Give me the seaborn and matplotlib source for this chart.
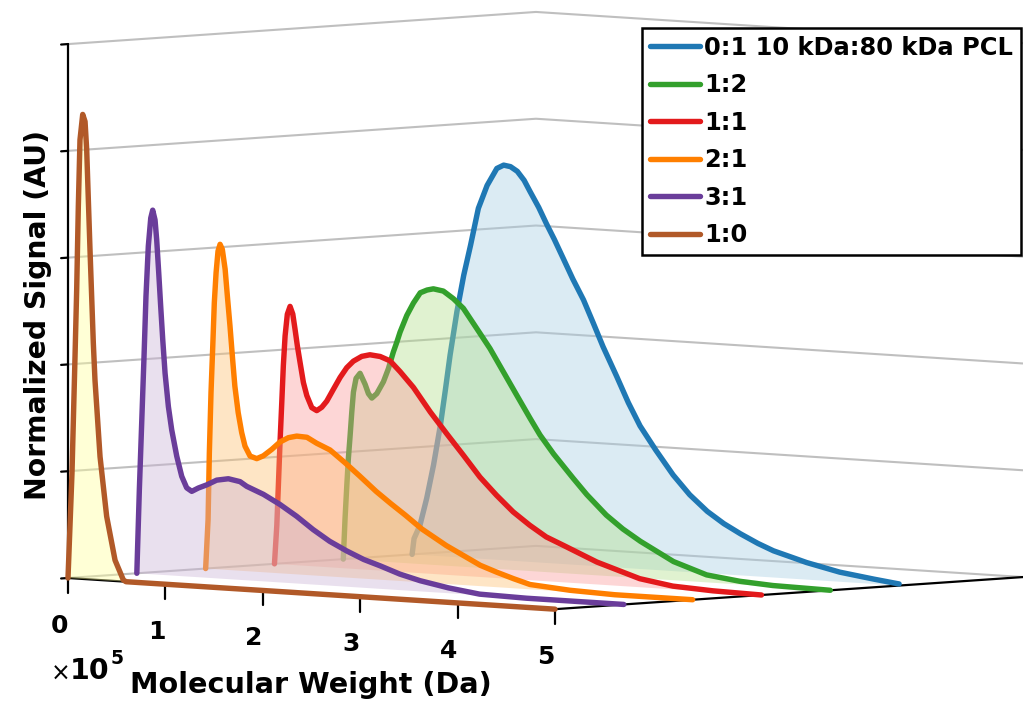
import numpy as np
import matplotlib
matplotlib.use("Agg")
import matplotlib.pyplot as plt
import seaborn as sns
from matplotlib.colors import to_rgba
from mpl_toolkits.mplot3d import proj3d
from mpl_toolkits.mplot3d.art3d import Poly3DCollection

sns.set_theme(style="ticks")
plt.rcParams["font.family"] = ["DejaVu Sans"]
plt.rcParams["font.weight"] = "bold"
plt.rcParams["text.color"] = "black"

# ---- data: molecular weight (x 1e5 Da) and normalized GPC signal per blend ----
labels = ["0:1 10 kDa:80 kDa PCL", "1:2", "1:1", "2:1", "3:1", "1:0"]

mw_0_1 = [0.00, 0.02, 0.08, 0.15, 0.22, 0.29, 0.34, 0.39, 0.46, 0.53, 0.60, 0.68, 0.77, 0.87, 0.94,
          1.01, 1.08, 1.15, 1.21, 1.30, 1.38, 1.46, 1.55, 1.65, 1.76, 1.86, 1.96, 2.10, 2.22, 2.34,
          2.50, 2.68, 2.85, 3.03, 3.20, 3.37, 3.55, 3.71, 3.90, 4.05, 4.39, 4.74, 5.00]
sig_0_1 = [0.00, 0.030, 0.055, 0.107, 0.170, 0.245, 0.310, 0.378, 0.460, 0.529, 0.586, 0.656, 0.700, 0.733, 0.740,
           0.738, 0.730, 0.714, 0.694, 0.665, 0.635, 0.607, 0.573, 0.535, 0.497, 0.455, 0.412, 0.358, 0.310, 0.268,
           0.225, 0.180, 0.145, 0.116, 0.095, 0.078, 0.062, 0.050, 0.040, 0.032, 0.018, 0.009, 0.003]

mw_1_2 = [0.00, 0.018, 0.036, 0.052, 0.07, 0.087, 0.104, 0.131, 0.172, 0.224, 0.258, 0.293, 0.344, 0.412,
          0.463, 0.514, 0.55, 0.583, 0.652, 0.72, 0.79, 0.86, 0.925, 1.027, 1.13, 1.233, 1.37, 1.506,
          1.643, 1.78, 1.918, 2.02, 2.16, 2.36, 2.50, 2.70, 2.87, 3.05, 3.39, 3.73, 4.07, 4.41, 5.00]
sig_1_2 = [0.00, 0.076, 0.138, 0.189, 0.232, 0.276, 0.314, 0.340, 0.350, 0.330, 0.313, 0.305, 0.314, 0.337,
           0.362, 0.394, 0.413, 0.432, 0.464, 0.488, 0.508, 0.514, 0.517, 0.514, 0.501, 0.484, 0.448, 0.412,
           0.370, 0.328, 0.286, 0.256, 0.222, 0.179, 0.150, 0.114, 0.090, 0.069, 0.035, 0.014, 0.006, 0.002, 0.00]

mw_1_1 = [0.00, 0.024, 0.04, 0.057, 0.075, 0.091, 0.109, 0.132, 0.16, 0.188, 0.211, 0.235, 0.263, 0.297,
          0.332, 0.383, 0.434, 0.486, 0.537, 0.605, 0.674, 0.742, 0.81, 0.896, 0.98, 1.085, 1.187, 1.29,
          1.427, 1.60, 1.77, 1.94, 2.11, 2.28, 2.45, 2.62, 2.79, 2.97, 3.31, 3.75, 4.09, 4.50, 5.00]
sig_1_1 = [0.00, 0.072, 0.147, 0.228, 0.303, 0.372, 0.428, 0.469, 0.484, 0.470, 0.442, 0.411, 0.380, 0.343,
           0.319, 0.297, 0.292, 0.299, 0.311, 0.334, 0.357, 0.376, 0.389, 0.399, 0.403, 0.401, 0.394, 0.375,
           0.347, 0.303, 0.264, 0.226, 0.187, 0.155, 0.126, 0.103, 0.083, 0.069, 0.042, 0.016, 0.006, 0.002, 0.00]

mw_2_1 = [0.00, 0.025, 0.038, 0.055, 0.073, 0.089, 0.107, 0.127, 0.148, 0.171, 0.20, 0.223, 0.25, 0.277,
          0.30, 0.334, 0.37, 0.404, 0.456, 0.525, 0.592, 0.678, 0.764, 0.849, 0.935, 1.04, 1.14, 1.277,
          1.43, 1.58, 1.75, 1.90, 2.05, 2.22, 2.47, 2.65, 2.82, 2.99, 3.16, 3.33, 3.74, 4.20, 5.00]
sig_2_1 = [0.00, 0.092, 0.217, 0.330, 0.417, 0.499, 0.555, 0.596, 0.609, 0.600, 0.563, 0.513, 0.457, 0.395,
           0.345, 0.296, 0.259, 0.234, 0.216, 0.212, 0.218, 0.231, 0.246, 0.255, 0.259, 0.258, 0.248, 0.237,
           0.215, 0.192, 0.165, 0.144, 0.124, 0.100, 0.072, 0.055, 0.039, 0.028, 0.018, 0.009, 0.003, 0.00, 0.00]

mw_3_1 = [0.00, 0.026, 0.05, 0.074, 0.094, 0.118, 0.143, 0.163, 0.187, 0.204, 0.225, 0.245, 0.266, 0.29,
          0.324, 0.358, 0.41, 0.461, 0.512, 0.564, 0.631, 0.718, 0.82, 0.94, 1.06, 1.128, 1.30, 1.47,
          1.64, 1.81, 1.98, 2.155, 2.33, 2.50, 2.70, 2.91, 3.20, 3.52, 4.00, 5.00]
sig_3_1 = [0.00, 0.157, 0.282, 0.407, 0.520, 0.614, 0.667, 0.682, 0.664, 0.627, 0.565, 0.503, 0.441, 0.378,
           0.316, 0.273, 0.224, 0.187, 0.166, 0.160, 0.167, 0.174, 0.184, 0.188, 0.184, 0.176, 0.163, 0.146,
           0.126, 0.103, 0.083, 0.067, 0.053, 0.043, 0.030, 0.020, 0.010, 0.002, 0.00, 0.00]

mw_1_0 = [0.00, 0.041, 0.072, 0.089, 0.106, 0.123, 0.151, 0.175, 0.192, 0.209, 0.226, 0.243, 0.26,
          0.277, 0.329, 0.397, 0.483, 0.568, 0.595, 5.00]
sig_1_0 = [0.00, 0.197, 0.415, 0.540, 0.697, 0.822, 0.870, 0.857, 0.804, 0.710, 0.617, 0.530, 0.443,
           0.374, 0.231, 0.120, 0.039, 0.003, 0.00, 0.00]

mw_series = [mw_0_1, mw_1_2, mw_1_1, mw_2_1, mw_3_1, mw_1_0]
sig_series = [sig_0_1, sig_1_2, sig_1_1, sig_2_1, sig_3_1, sig_1_0]

x_ticks = [0, 1, 2, 3, 4, 5]
z_ticks = [0.0, 0.2, 0.4, 0.6, 0.8, 1.0]

# Paired palette: dark shade for the trace, light shade for the area under it
paired = sns.color_palette("Paired", 12)
line_colors = [paired[1], paired[3], paired[5], paired[7], paired[9], paired[11]]
fill_colors = [paired[0], paired[2], paired[4], paired[6], paired[8], paired[10]]

W, H = 1023, 702
fig = plt.figure(figsize=(W / 100, H / 100), dpi=100)
fig.patch.set_facecolor("white")
ax = fig.add_axes([0, 0, 1, 1], projection="3d")
ax.set_proj_type("ortho")
ax.view_init(elev=3.8, azim=-46)
ax.set_box_aspect((677.0, 673.7, 535.1))
ax.computed_zorder = False
ax.set_facecolor((1, 1, 1, 0))
for t in (ax.title, ax._left_title, ax._right_title):
    t.set_visible(False)

n = len(labels)
y_max = 6.8
ax.set_xlim(0, 5)
ax.set_ylim(0, y_max)
ax.set_zlim(0, 1)
ax.set_xticks([])
ax.set_yticks([])
ax.set_zticks(z_ticks)
ax.zaxis.set_tick_params(label1On=False, label2On=False)

for axis in (ax.xaxis, ax.yaxis, ax.zaxis):
    axis.set_pane_color((1, 1, 1, 0))
    axis.pane.set_edgecolor((1, 1, 1, 0))
    axis.line.set_color("black")
    axis.line.set_linewidth(1.6)
    axis.label.set_visible(False)
    axis.offsetText.set_visible(False)

# z gridlines on the back walls; the vertical axis itself is drawn on the left edge below
ax.zaxis._axinfo["grid"].update(color="#bfbfbf", linewidth=1.5, linestyle="-")
ax.zaxis._axinfo["tick"]["inward_factor"] = 0.0
ax.zaxis._axinfo["tick"]["outward_factor"] = 0.0
ax.zaxis._axinfo["tick"]["linewidth"] = {True: 0.0, False: 0.0}
ax.zaxis.line.set_color((0, 0, 0, 0))

ax.plot([0, 0], [0, 0], [z_ticks[0], z_ticks[-1]], color="black", lw=1.6, zorder=1)
for zt in z_ticks:
    ax.plot([0, 0], [0, -0.1], [zt, zt], color="black", lw=1.6, zorder=1)

# x tick marks along the front floor edge
for k in x_ticks:
    ax.plot([k, k], [0, 0], [0, -0.028], color="black", lw=1.6, zorder=1)

# traces: back (0:1) to front (1:0)
handles = []
for i in range(n):
    depth = n - 1 - i
    xs = np.asarray(mw_series[i], dtype=float)
    zs = np.asarray(sig_series[i], dtype=float)
    ys = np.full_like(xs, depth)
    verts = list(zip(xs, ys, zs)) + [(xs[-1], depth, 0.0), (xs[0], depth, 0.0)]
    poly = Poly3DCollection([verts], facecolors=[to_rgba(fill_colors[i], 0.4)],
                            edgecolors="none", zorder=2 + 2 * i)
    ax.add_collection3d(poly)
    line, = ax.plot(xs, ys, zs, color=line_colors[i], lw=3.9,
                    solid_capstyle="round", solid_joinstyle="round",
                    zorder=3 + 2 * i, label=labels[i])
    handles.append(line)

# place the box: floor corners (0,0,0) and (5,0,0) at fixed pixel positions
fig.canvas.draw()


def to_px(x, y, z):
    px, py, _ = proj3d.proj_transform(np.atleast_1d(x), np.atleast_1d(y),
                                      np.atleast_1d(z), ax.M)
    return ax.transData.transform(np.column_stack([px, py]))


pts = to_px([0, 5], [0, 0], [0, 0])
target = np.array([[68.0, H - 578.0], [555.0, H - 610.0]])
s = (target[1, 0] - target[0, 0]) / (pts[1, 0] - pts[0, 0])
bb = ax.get_position().transformed(fig.transFigure)
cx, cy = (bb.x0 + bb.x1) / 2, (bb.y0 + bb.y1) / 2
side = bb.width * s
ncx = target[0, 0] - s * (pts[0, 0] - cx)
ncy = target[0, 1] - s * (pts[0, 1] - cy)
ax.set_position([(ncx - side / 2) / W, (ncy - side / 2) / H, side / W, side / H])

# x tick labels, placed at the projected position just below each tick
tick_px = to_px(np.asarray(x_ticks, dtype=float), np.full(len(x_ticks), -0.13),
                np.full(len(x_ticks), -0.088))
for k, (px, py) in zip(x_ticks, tick_px):
    fig.text(px / W, py / H, f"{k}", ha="center", va="center",
             fontsize=18, fontweight="bold", color="black")

# axis titles
fig.text(38 / W, 1 - 315 / H, "Normalized Signal (AU)", rotation=90,
         ha="center", va="center", fontsize=20.3, fontweight="bold")
fig.text(311 / W, 1 - 685 / H, "Molecular Weight (Da)",
         ha="center", va="center", fontsize=20.6, fontweight="bold")
fig.text(61 / W, 1 - 674 / H, "\u00d7", ha="center", va="center",
         fontsize=17, fontweight="normal")
fig.text(89.5 / W, 1 - 671 / H, "10", ha="center", va="center",
         fontsize=20.4, fontweight="bold")
fig.text(117 / W, 1 - 659 / H, "5", ha="center", va="center",
         fontsize=13.5, fontweight="bold")

leg = fig.legend(handles=handles, labels=labels, loc="upper right",
                 bbox_to_anchor=(1021 / W, 1 - 28 / H), frameon=True, fancybox=False,
                 shadow=False, framealpha=1, edgecolor="black", fontsize=17.4,
                 handlelength=2.05, handletextpad=0.2, borderpad=0.32,
                 labelspacing=0.56, borderaxespad=0)
leg.get_frame().set_linewidth(1.8)
for t in leg.get_texts():
    t.set_fontweight("bold")
    t.set_color("black")

fig.savefig("out.png", dpi=100, facecolor="white")
